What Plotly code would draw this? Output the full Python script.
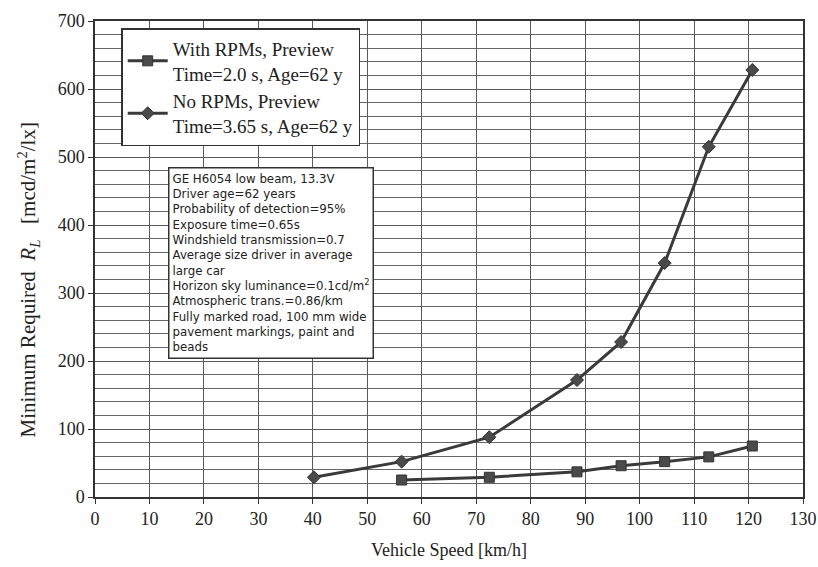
import plotly.graph_objects as go

speed_with = [56.3, 72.4, 88.5, 96.6, 104.6, 112.7, 120.7]
rl_with = [25, 29, 37, 46, 52, 59, 75]
speed_no = [40.2, 56.3, 72.4, 88.5, 96.6, 104.6, 112.7, 120.7]
rl_no = [29, 52, 88, 172, 228, 344, 515, 628]

x_ticks = list(range(0, 131, 10))
y_ticks = list(range(0, 701, 100))

note_lines = [
    "GE H6054 low beam, 13.3V",
    "Driver age=62 years",
    "Probability of detection=95%",
    "Exposure time=0.65s",
    "Windshield transmission=0.7",
    "Average size driver in average",
    "large car",
    "Horizon sky luminance=0.1cd/m<sup>2</sup>",
    "Atmospheric trans.=0.86/km",
    "Fully marked road, 100 mm wide",
    "pavement markings, paint and",
    "beads",
]

serif = "Liberation Serif, Times New Roman, serif"
sans = "DejaVu Sans, Arial, sans-serif"

fig = go.Figure()
fig.add_trace(go.Scatter(
    x=speed_with, y=rl_with, mode="lines+markers",
    name="With RPMs, Preview<br>Time=2.0 s, Age=62 y",
    line=dict(color="#3a3a3a", width=3),
    marker=dict(symbol="square", size=10, color="#4a4a4a", line=dict(color="#333", width=1)),
))
fig.add_trace(go.Scatter(
    x=speed_no, y=rl_no, mode="lines+markers",
    name="No RPMs, Preview<br>Time=3.65 s, Age=62 y",
    line=dict(color="#3a3a3a", width=3),
    marker=dict(symbol="diamond", size=10, color="#4a4a4a", line=dict(color="#333", width=1)),
))

fig.add_annotation(
    xref="paper", yref="paper", x=0.103, y=0.693, xanchor="left", yanchor="top",
    text="<br>".join(note_lines), align="left", showarrow=False,
    font=dict(family=sans, size=11.8, color="#222"),
    bordercolor="#333", borderwidth=1.5, borderpad=3, bgcolor="white",
)

# y-axis title as a rotated annotation
fig.add_annotation(
    xref="paper", yref="paper", x=-0.094, y=0.456, xanchor="center", yanchor="middle",
    text="Minimum Required&nbsp;&nbsp;<i>R<sub>L</sub></i>&nbsp;&nbsp;&nbsp;[mcd/m<sup>2</sup>/lx]",
    textangle=-90, showarrow=False,
    font=dict(family=serif, size=21, color="#222"),
)

fig.update_layout(
    width=818, height=567,
    margin=dict(l=95, r=15, t=21, b=70, autoexpand=False),
    paper_bgcolor="white", plot_bgcolor="white",
    font=dict(family=serif, color="#222"),
    legend=dict(
        x=0.037, y=0.985, xanchor="left", yanchor="top",
        font=dict(family=serif, size=19, color="#222"),
        bordercolor="#333", borderwidth=1.5, bgcolor="white",
        tracegroupgap=0, itemwidth=40,
    ),
    xaxis=dict(
        range=[0, 130], tickvals=x_ticks, ticktext=[str(v) for v in x_ticks],
        showgrid=True, gridcolor="#5a5a5a", gridwidth=1,
        showline=True, linecolor="#333", linewidth=1.5, mirror=True,
        ticks="outside", ticklen=5, tickcolor="#333",
        tickfont=dict(family=serif, size=18, color="#222"),
        title=dict(text="Vehicle Speed [km/h]", font=dict(family=serif, size=18, color="#222"), standoff=15),
        zeroline=False, automargin=False,
    ),
    yaxis=dict(
        range=[0, 700], tickvals=y_ticks, ticktext=[str(v) for v in y_ticks],
        showgrid=True, gridcolor="#5a5a5a", gridwidth=1,
        minor=dict(dtick=20, showgrid=True, gridcolor="#666", gridwidth=1),
        showline=True, linecolor="#333", linewidth=1.5, mirror=True,
        ticks="outside", ticklen=5, tickcolor="#333",
        tickfont=dict(family=serif, size=18, color="#222"),
        zeroline=False, automargin=False,
    ),
)

fig.write_html(
    "out.html",
    config={"displayModeBar": False},
    post_script="document.body.style.margin='0';document.body.style.overflow='hidden';",
)
